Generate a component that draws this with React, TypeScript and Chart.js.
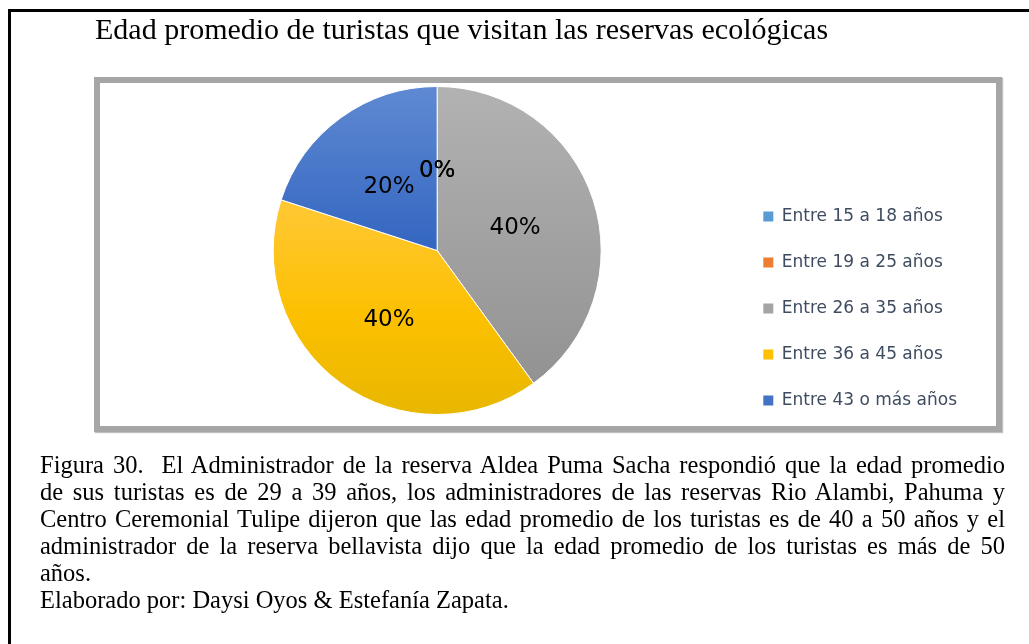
import React, { useEffect, useRef } from "react";
import { Chart, registerables } from "chart.js";

Chart.register(...registerables);

const titleText = "Edad promedio de turistas que visitan las reservas ecológicas";
const categories = [
  "Entre 15 a 18 años",
  "Entre 19 a 25 años",
  "Entre 26 a 35 años",
  "Entre 36 a 45 años",
  "Entre 43 o más años",
];
const counts = [0, 0, 2, 2, 1];
const legendColors = ["#5b9bd5", "#ed7d31", "#a5a5a5", "#ffc000", "#4472c4"];
const flatColors = ["#5b9bd5", "#ed7d31", "#a5a5a5", "#ffc000", "#4472c4"];
const gradientStops: [number, string][][] = [
  [[0, "#6aa8df"], [1, "#4a8acb"]],
  [[0, "#f29150"], [1, "#e06a1e"]],
  [[0, "#b2b2b2"], [1, "#8f8f8f"]],
  [[0, "#ffd25e"], [0.4, "#ffc72e"], [0.7, "#fcc000"], [1, "#e8b700"]],
  [[0, "#5f89d2"], [0.5, "#3366c1"], [1, "#1f4fa8"]],
];
const captionLines = [
  "Figura 30.\u00a0 El Administrador de la reserva Aldea Puma Sacha respondió que la edad promedio",
  "de sus turistas es de 29 a 39 años, los administradores de las reservas Rio Alambi, Pahuma y",
  "Centro Ceremonial Tulipe dijeron que las edad promedio de los turistas es de 40 a 50 años y el",
  "administrador de la reserva bellavista dijo que la edad promedio de los turistas es más de 50",
];
const captionLast = "años.";
const creditText = "Elaborado por: Daysi Oyos & Estefanía Zapata.";

const PIE_RADIUS = 164;
const LABEL_DY = 3;

const pieLabels = {
  id: "pieLabels",
  afterDatasetsDraw(chart: any) {
    const { ctx } = chart;
    const meta = chart.getDatasetMeta(0);
    const data = chart.data.datasets[0].data as number[];
    const total = data.reduce((a, b) => a + b, 0);
    ctx.save();
    ctx.font = '23px "DejaVu Sans"';
    ctx.fillStyle = "#000000";
    ctx.textAlign = "center";
    ctx.textBaseline = "middle";
    meta.data.forEach((arc: any, i: number) => {
      const p = arc.tooltipPosition(false);
      const pct = Math.round((data[i] / total) * 100);
      ctx.fillText(pct + "%", p.x, p.y + LABEL_DY);
    });
    ctx.restore();
  },
};

export default function App() {
  const ref = useRef<HTMLCanvasElement | null>(null);

  useEffect(() => {
    if (!ref.current) return;
    const chart = new Chart(ref.current, {
      type: "pie",
      data: {
        labels: categories,
        datasets: [
          {
            data: counts,
            radius: PIE_RADIUS,
            borderColor: "#ffffff",
            borderWidth: 1,
            backgroundColor: (c: any) => {
              const ch = c.chart;
              const area = ch.chartArea;
              const i = c.dataIndex;
              if (!area) return flatColors[i];
              const cy = (area.top + area.bottom) / 2;
              const g = ch.ctx.createLinearGradient(0, cy - PIE_RADIUS, 0, cy + PIE_RADIUS);
              gradientStops[i].forEach(([o, col]) => g.addColorStop(o, col));
              return g;
            },
          } as any,
        ],
      },
      options: {
        animation: false,
        responsive: false,
        devicePixelRatio: 1,
        layout: { padding: { left: 40, right: 29, top: 2, bottom: 3 } },
        plugins: {
          tooltip: { enabled: false },
          legend: {
            position: "right",
            align: "end",
            labels: {
              boxWidth: 10,
              boxHeight: 10,
              padding: 29,
              color: "#3f4c60",
              font: { family: "DejaVu Sans", size: 17 },
              generateLabels: () =>
                categories.map((t, i) => ({
                  text: t,
                  fillStyle: legendColors[i],
                  strokeStyle: legendColors[i],
                  lineWidth: 0,
                  hidden: false,
                  index: i,
                  datasetIndex: 0,
                  fontColor: "#3f4c60",
                })),
            },
          },
        },
      },
      plugins: [pieLabels],
    });
    return () => chart.destroy();
  }, []);

  const serif = "'Liberation Serif', 'Times New Roman', serif";

  return (
    <>
      <style>{"html,body{overflow:hidden;}"}</style>
      <div style={{ position: "fixed", left: 8, top: 9, width: 1100, height: 3, background: "#000" }} />
      <div style={{ position: "fixed", left: 8, top: 9, width: 3, height: 700, background: "#000" }} />
      <div
        style={{
          position: "fixed",
          left: 11,
          top: 12,
          width: 1018,
          height: 632,
          overflow: "hidden",
          background: "transparent",
        }}
      >
        <div
          style={{
            position: "absolute",
            left: 84,
            top: 2,
            fontFamily: serif,
            fontSize: 30,
            lineHeight: "30px",
            color: "#000",
            whiteSpace: "nowrap",
          }}
        >
          {titleText}
        </div>
        <div
          style={{
            position: "absolute",
            left: 83,
            top: 65,
            width: 908,
            height: 355,
            border: "6px solid #a6a6a6",
            boxSizing: "border-box",
            background: "#fff",
            boxShadow: "1px 1px 1px rgba(0,0,0,0.25)",
          }}
        />
        <canvas
          ref={ref}
          width={896}
          height={380}
          style={{ position: "absolute", left: 89, top: 49 }}
        />
        <div
          style={{
            position: "absolute",
            left: 29,
            top: 439,
            width: 965,
            fontFamily: serif,
            fontSize: 24.5,
            lineHeight: "27px",
            color: "#000",
          }}
        >
          {captionLines.map((l, i) => (
            <div key={i} style={{ textAlign: "justify", textAlignLast: "justify", whiteSpace: "nowrap" }}>
              {l}
            </div>
          ))}
          <div>{captionLast}</div>
          <div>{creditText}</div>
        </div>
      </div>
    </>
  );
}
